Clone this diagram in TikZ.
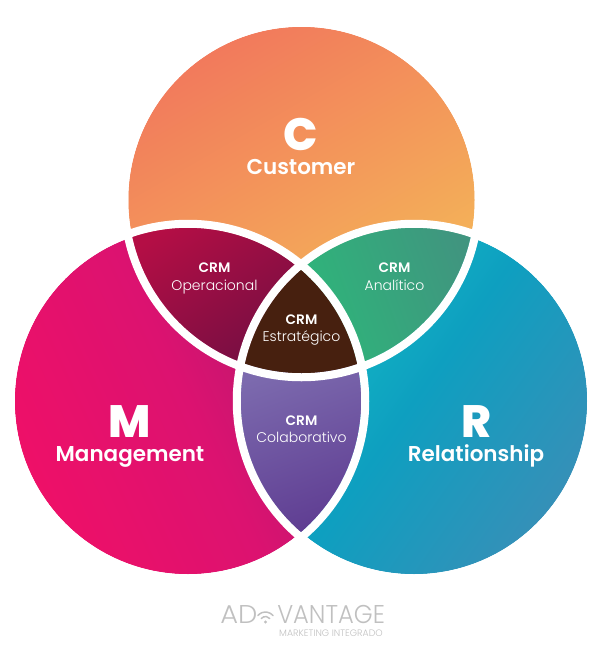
\documentclass[tikz,border=0pt]{standalone}
\usepackage{fontspec}
\setmainfont{Poppins}
\newfontfamily\popsb{Poppins SemiBold}
\newfontfamily\popsx{Poppins ExtraBold}
\newfontfamily\popsl{Poppins Light}
\definecolor{logog}{HTML}{C0C0C0}
\definecolor{c1}{HTML}{F27A5C}
\definecolor{c2}{HTML}{F4BC58}
\definecolor{m1}{HTML}{EE1068}
\definecolor{m2}{HTML}{DC1270}
\definecolor{m3}{HTML}{A81C6E}
\definecolor{r1}{HTML}{14C4C6}
\definecolor{r2}{HTML}{0E9FC0}
\definecolor{r3}{HTML}{3590B8}
\definecolor{o1}{HTML}{B40E45}
\definecolor{o2}{HTML}{720E42}
\definecolor{a1}{HTML}{2DB77A}
\definecolor{a2}{HTML}{40957F}
\definecolor{v1}{HTML}{7C6AAE}
\definecolor{v2}{HTML}{5F3D92}
\definecolor{brownc}{HTML}{47200F}
\tikzset{
  bigletter/.style={text=white,font=\popsx\fontsize{34}{34}\selectfont,inner sep=0pt,anchor=base},
  wordtxt/.style={text=white,font=\popsb\fontsize{16.1}{17}\selectfont,inner sep=0pt,anchor=base},
  crmtxt/.style={text=white,font=\popsb\fontsize{10.3}{11}\selectfont,inner sep=0pt,anchor=base},
  subtxt/.style={text=white,font=\popsl\fontsize{10.5}{11}\selectfont,inner sep=0pt,anchor=base},
  bandring/.style={draw=white,line width=6pt},
  logotxt/.style={text=logog,font=\popsl\fontsize{19.3}{20}\selectfont,inner sep=0pt,anchor=base west},
  logosmall/.style={text=logog,font=\popsl\fontsize{7}{7}\selectfont,inner sep=0pt,anchor=base east},
  wifiarc/.style={draw=logog,line width=1.1pt,line cap=round}
}
\def\cC{(301.5,200) circle (173.25)}
\def\cM{(188,401) circle (173.25)}
\def\cR{(414,401) circle (173.25)}
\begin{document}
\begin{tikzpicture}[x=0.75pt,y=-0.75pt]
\useasboundingbox (0,0) rectangle (600,654);
% large circles
\shade[left color=c1,right color=c2,shading angle=30] \cC;
\shade[left color=m1,right color=m3,middle color=m2,shading angle=115] \cM;
\shade[left color=r1,right color=r3,middle color=r2,shading angle=55] \cR;
% two-way overlaps
\begin{scope}
  \clip \cC; \clip \cM;
  \shade[left color=o1,right color=o2,shading angle=35] (125,215) rectangle (295,385);
\end{scope}
\begin{scope}
  \clip \cC; \clip \cR;
  \shade[left color=a1,right color=a2,shading angle=110] (300,215) rectangle (475,385);
\end{scope}
\begin{scope}
  \clip \cM; \clip \cR;
  \shade[top color=v1,bottom color=v2,shading angle=20] (235,360) rectangle (365,535);
\end{scope}
% three-way overlap
\begin{scope}
  \clip \cC; \clip \cM; \clip \cR;
  \fill[brownc] (230,260) rectangle (370,380);
\end{scope}
% white bands
\draw[bandring] (301.5,200) circle (177.25);
\draw[bandring] (188,401) circle (177.25);
\draw[bandring] (414,401) circle (177.25);
% labels
\node[bigletter] (lc) at (301,150) {C};
\node[wordtxt] (nc) at (301,174) {Customer};
\node[bigletter] (lm) at (130,437) {M};
\node[wordtxt] (nm) at (130,461.5) {Management};
\node[bigletter] (lr) at (476,437) {R};
\node[wordtxt] (nr) at (476,461.5) {Relationship};
\node[crmtxt] (o1t) at (214.5,272.7) {CRM};
\node[subtxt] (o3t) at (214.5,290) {Operacional};
\node[crmtxt] (a1t) at (394.5,272.7) {CRM};
\node[subtxt] (a2t) at (394.5,290) {Analítico};
\node[crmtxt] (e1t) at (301.5,324) {CRM};
\node[subtxt] (e2t) at (301.5,341) {Estratégico};
\node[crmtxt] (k1t) at (301.5,425.7) {CRM};
\node[subtxt] (k2t) at (301.5,442.7) {Colaborativo};
% logo
\node[logotxt] (ad) at (220,623) {\scalebox{1.06}[1]{AD}};
\node[logotxt] (vt) at (277,623) {\scalebox{0.94}[1]{VANTAGE}};
\node[logosmall] (mk) at (383,636.5) {MARKETING INTEGRADO};
\fill[logog] (265.5,622) circle (1.6);
\draw[wifiarc] (261.3,618.5) arc (-140:-40:5.5);
\draw[wifiarc] (257.8,615.6) arc (-140:-40:10);
\end{tikzpicture}
\end{document}
